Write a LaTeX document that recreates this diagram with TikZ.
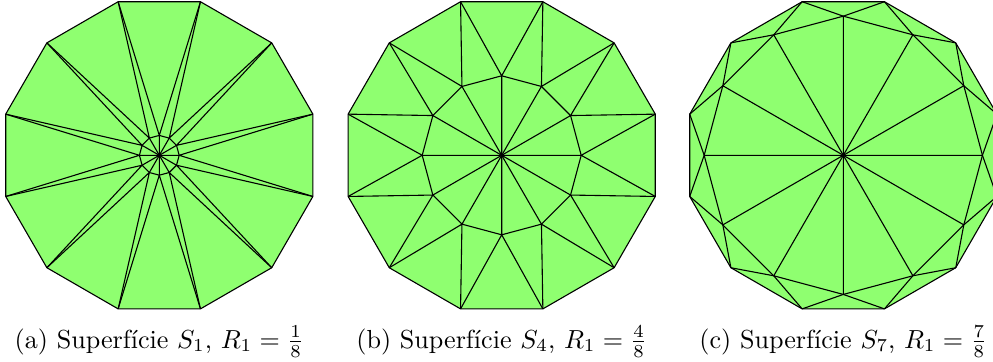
\documentclass[tikz,border=0pt]{standalone}
\usepackage{fontspec}
\usepackage{amsmath}
\usepackage{tikz}

\definecolor{surfgreen}{RGB}{143,255,112}

\begin{document}
\begin{tikzpicture}[x=0.41pt, y=0.41pt,
    surf/.style={fill=surfgreen, draw=black, line width=0.45pt, line join=round},
    mesh/.style={black, line width=0.45pt, line join=round}]
    \useasboundingbox (0,0) rectangle (993,361);
    \clip (0,0) rectangle (993,361);

    % the three surfaces S_1, S_4, S_7 (outer radius 159, inner radius R_1 * 159)
    \foreach \cx/\s/\lab in {159.3/1/a, 501.7/4/b, 843.3/7/c} {
        \begin{scope}[shift={(\cx,205.7)}]
            \pgfmathsetmacro{\ri}{\s*159/8}
            % outer dodecagon
            \draw[surf] (15:159) \foreach \b in {45,75,...,345} {-- (\b:159)} -- cycle;
            % fan, inner ring and outer triangles
            \foreach \a in {0,30,...,330} {
                \draw[mesh] (0,0) -- (\a:\ri) -- ({\a+30}:\ri);
                \draw[mesh] ({\a-15}:159) -- (\a:\ri) -- ({\a+15}:159);
            }
            \fill (0,0) circle (1.6);
            \node[anchor=base, scale=1.07] at (0,-192.7) {(\lab) Superfície $S_{\s}$, $R_1 = \frac{\s}{8}$};
        \end{scope}
    }
\end{tikzpicture}
\end{document}
